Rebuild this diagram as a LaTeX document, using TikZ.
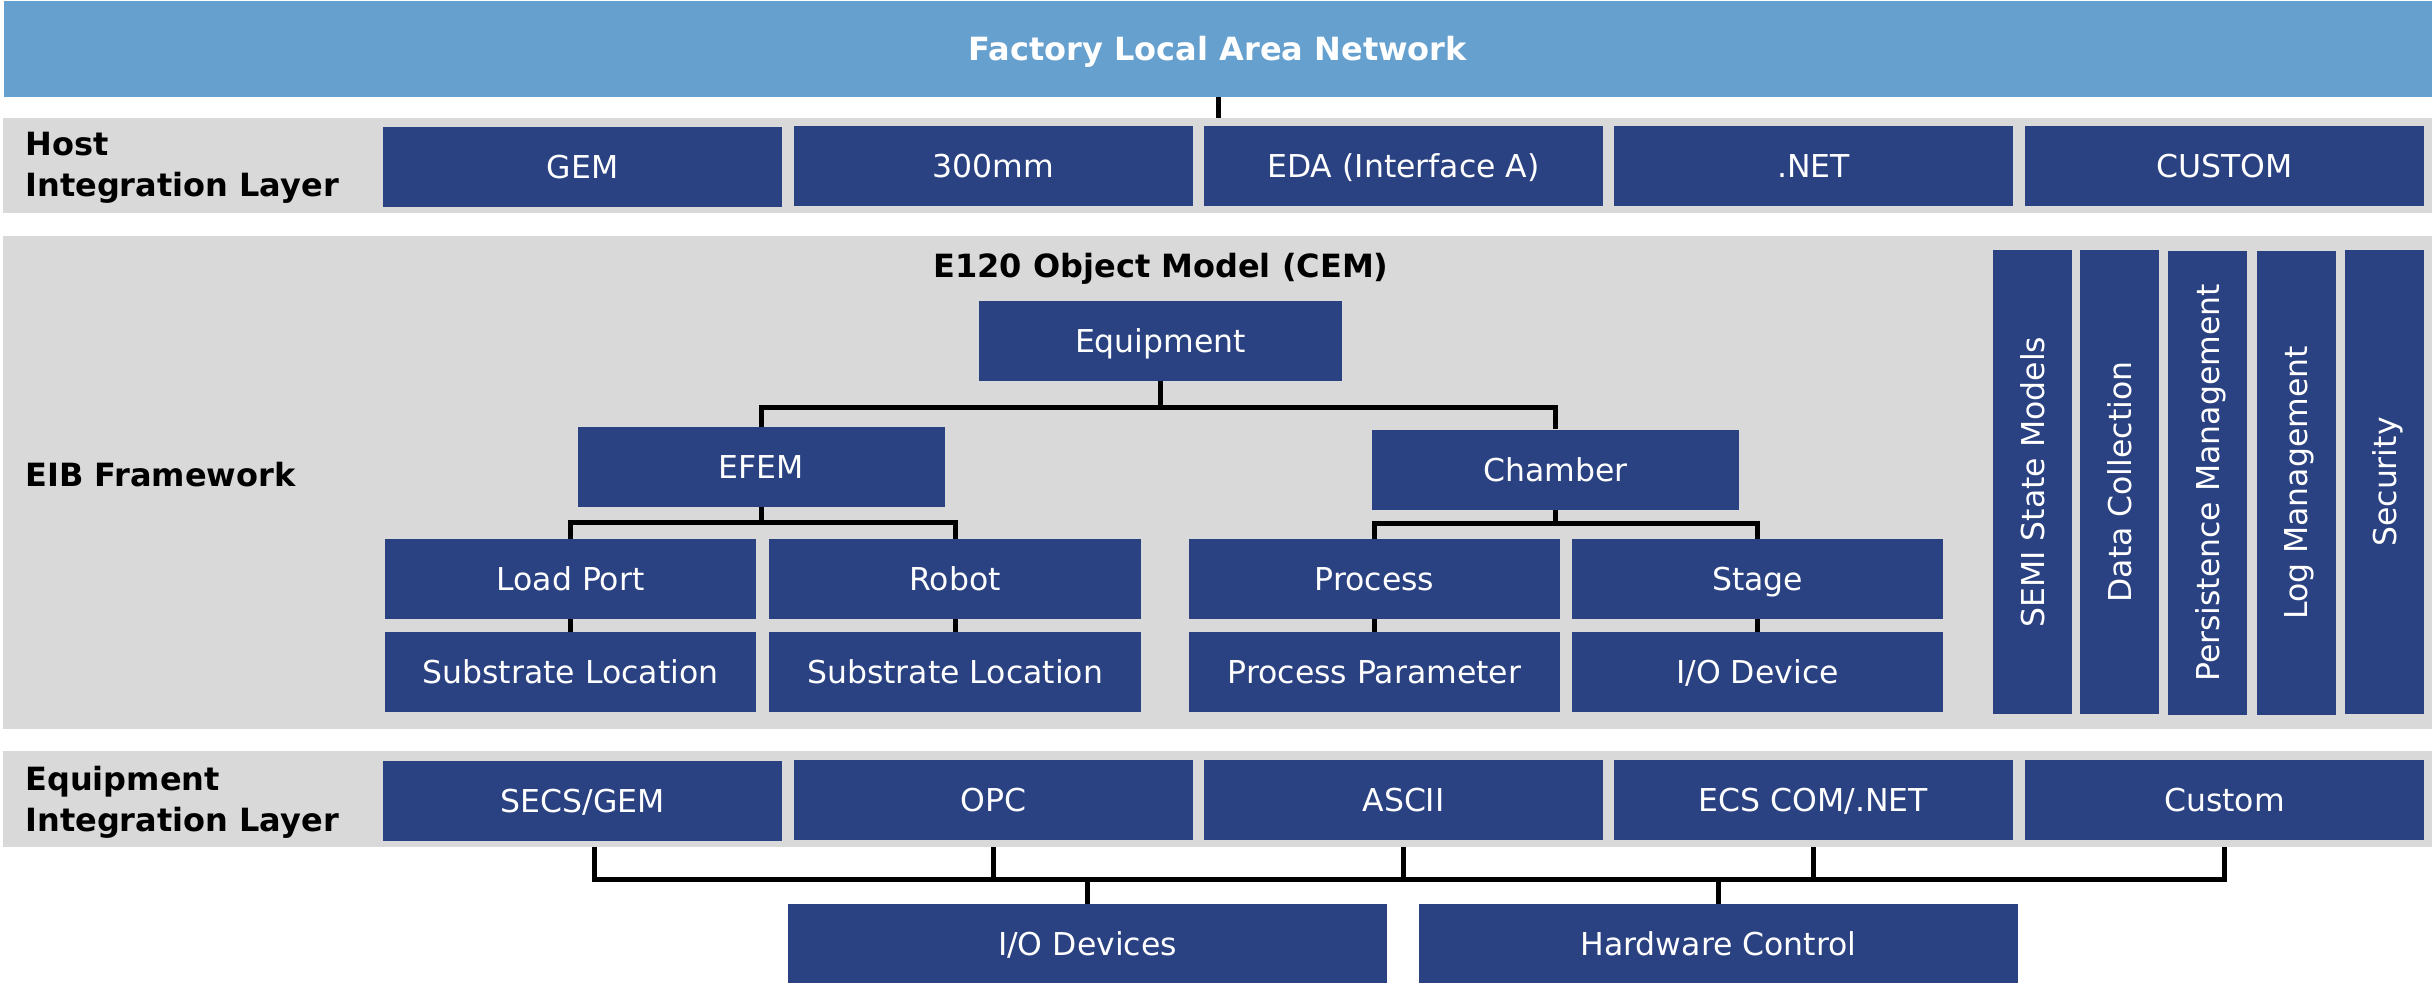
\documentclass[tikz,border=0pt]{standalone}
\usepackage{fontspec}
\setmainfont{DejaVu Sans}
\definecolor{navy}{RGB}{43,66,130}
\definecolor{lanblue}{RGB}{102,160,206}
\definecolor{bandgray}{RGB}{217,217,217}
\newcommand\boxfont{\fontsize{15.75pt}{18pt}\selectfont}
\newcommand\labfont{\fontsize{16pt}{20.5pt}\selectfont\bfseries}
\pgfdeclarelayer{lines}
\pgfdeclarelayer{bands}
\pgfsetlayers{lines,bands,main}
\begin{document}
\begin{tikzpicture}[x=0.5pt,y=-0.5pt,
  box/.style={fill=navy,text=white,inner sep=0pt,minimum height=40pt,font=\boxfont,
              text height=11.5pt,text depth=0pt},
  hbox/.style={box,minimum width=199.5pt},
  vbox/.style={box,rotate=90,minimum width=232pt,minimum height=39.5pt},
  band/.style={fill=bandgray,inner sep=0pt,minimum width=1214.5pt},
  lab/.style={anchor=west,align=left,font=\labfont,inner sep=0pt},
  conn/.style={line width=2.5pt,line join=miter}]
\useasboundingbox (0,0) rectangle (2432,985);
% LAN bar
\node[fill=lanblue,text=white,inner sep=0pt,minimum width=1214pt,minimum height=48pt,
      font=\labfont,text height=11.7pt,text depth=0pt] (lan) at (1218,49) {Factory Local Area Network};
% bands
\begin{pgfonlayer}{bands}
\node[band,minimum height=47.5pt] (hostband) at (1217.5,165.5) {};
\node[band,minimum height=246.5pt] (eibband) at (1217.5,482.5) {};
\node[band,minimum height=48pt] (eqband) at (1217.5,799) {};
\end{pgfonlayer}
% host layer
\node[lab] (hostlab) at (25,167.5) {Host\\Integration Layer};
\node[hbox] (gem) at (582.5,167) {GEM};
\node[hbox] (h300) at (993.5,166) {300mm};
\node[hbox] (eda) at (1403.5,166) {EDA (Interface A)};
\node[hbox] (net) at (1813.5,166) {.NET};
\node[hbox] (custom) at (2224.5,166) {CUSTOM};
\draw[conn] (lan.south) -- (lan.south |- hostband.north);
% EIB
\node[lab] (eiblab) at (25,475) {EIB Framework};
\node[font=\labfont,inner sep=0pt] (cemtitle) at (1161,269) {E120 Object Model (CEM)};
\node[box,minimum width=181.5pt] (equip) at (1160.5,341) {Equipment};
\node[box,minimum width=183.5pt] (efem) at (761.5,467) {EFEM};
\node[box,minimum width=183.5pt] (chamber) at (1555.5,469.5) {Chamber};
\node[box,minimum width=185.5pt] (loadport) at (570.5,579) {Load Port};
\node[box,minimum width=186pt] (robot) at (955,579) {Robot};
\node[box,minimum width=185.5pt] (process) at (1374.5,579) {Process};
\node[box,minimum width=185.5pt] (stage) at (1757.5,579) {Stage};
\node[box,minimum width=185.5pt] (sl1) at (570.5,672) {Substrate Location};
\node[box,minimum width=186pt] (sl2) at (955,672) {Substrate Location};
\node[box,minimum width=185.5pt] (pp) at (1374.5,672) {Process Parameter};
\node[box,minimum width=185.5pt] (iodev) at (1757.5,672) {I/O Device};
\node[vbox] (semi) at (2032.5,482) {SEMI State Models};
\node[vbox] (datacol) at (2119.5,482) {Data Collection};
\node[vbox] (persist) at (2207.5,483) {Persistence Management};
\node[vbox] (logm) at (2296,483) {Log Management};
\node[vbox] (secur) at (2384.5,482) {Security};
\coordinate (bara) at (0,407);
\coordinate (barb) at (0,522);
\coordinate (barc) at (0,523);
\draw[conn] (equip.south) -- (equip.south |- bara);
\draw[conn] (efem.north) -- (efem.north |- bara) -- (chamber.north |- bara) -- (chamber.north);
\draw[conn] (efem.south) -- (efem.south |- barb);
\draw[conn] (loadport.north) -- (loadport.north |- barb) -- (robot.north |- barb) -- (robot.north);
\draw[conn] (chamber.south) -- (chamber.south |- barc);
\draw[conn] (process.north) -- (process.north |- barc) -- (stage.north |- barc) -- (stage.north);
\draw[conn] (loadport.south) -- (sl1.north);
\draw[conn] (robot.south) -- (sl2.north);
\draw[conn] (process.south) -- (pp.north);
\draw[conn] (stage.south) -- (iodev.north);
% equipment integration layer
\node[lab] (eqlab) at (25,802.5) {Equipment\\Integration Layer};
\node[hbox] (secs) at (582.5,801) {SECS/GEM};
\node[hbox] (opc) at (993.5,800) {OPC};
\node[hbox] (ascii) at (1403.5,800) {ASCII};
\node[hbox] (ecs) at (1813.5,800) {ECS COM/.NET};
\node[hbox] (ecustom) at (2224.5,800) {Custom};
\node[box,minimum width=299.5pt,minimum height=39.5pt] (iodevs) at (1087.5,943.5) {I/O Devices};
\node[box,minimum width=299.5pt,minimum height=39.5pt] (hwctl) at (1718.5,943.5) {Hardware Control};
\coordinate (bard) at (0,879);
\begin{pgfonlayer}{lines}
\draw[conn] ([xshift=6pt]secs.south) -- ([xshift=6pt]secs.south |- bard) -- (ecustom.south |- bard) -- (ecustom.south);
\draw[conn] (opc.south) -- (opc.south |- bard);
\draw[conn] (ascii.south) -- (ascii.south |- bard);
\draw[conn] (ecs.south) -- (ecs.south |- bard);
\draw[conn] (iodevs.north) -- (iodevs.north |- bard);
\draw[conn] (hwctl.north) -- (hwctl.north |- bard);
\end{pgfonlayer}
\end{tikzpicture}
\end{document}
